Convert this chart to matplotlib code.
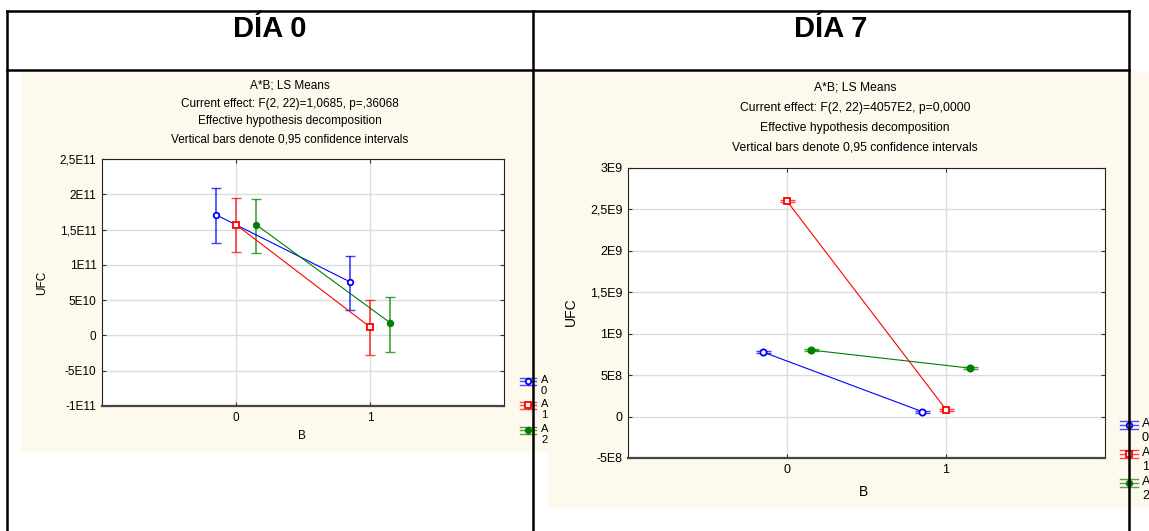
import matplotlib.pyplot as plt
from matplotlib.lines import Line2D
from matplotlib.patches import Rectangle

plt.rcParams['font.family'] = ['Liberation Sans', 'DejaVu Sans']

W, H = 1149, 531

# factor A levels, drawn side by side around each level of B
a_labels = ['A\n0', 'A\n1', 'A\n2']
a_offsets = [-0.15, 0.0, 0.15]
b_levels = [0, 1]
colors = ['#0000ff', '#ff0000', '#008000']
markers = ['o', 's', 'o']

# day 0: LS means of UFC with 0,95 confidence limits
d0_mean = [[1.71e11, 7.6e10], [1.57e11, 1.2e10], [1.57e11, 1.8e10]]
d0_low = [[1.31e11, 3.55e10], [1.18e11, -2.75e10], [1.175e11, -2.3e10]]
d0_high = [[2.09e11, 1.12e11], [1.95e11, 5.0e10], [1.94e11, 5.4e10]]
d0_yticks = [-1e11, -5e10, 0, 5e10, 1e11, 1.5e11, 2e11, 2.5e11]
d0_ylabels = ['-1E11', '-5E10', '0', '5E10', '1E11', '1,5E11', '2E11', '2,5E11']
d0_title = ['A*B; LS Means',
            'Current effect: F(2, 22)=1,0685, p=,36068',
            'Effective hypothesis decomposition',
            'Vertical bars denote 0,95 confidence intervals']

# day 7
d7_mean = [[7.78e8, 6.0e7], [2.60e9, 8.5e7], [8.03e8, 5.85e8]]
d7_low = [[7.66e8, 4.8e7], [2.588e9, 7.3e7], [7.91e8, 5.73e8]]
d7_high = [[7.90e8, 7.2e7], [2.612e9, 9.7e7], [8.15e8, 5.97e8]]
d7_yticks = [-5e8, 0, 5e8, 1e9, 1.5e9, 2e9, 2.5e9, 3e9]
d7_ylabels = ['-5E8', '0', '5E8', '1E9', '1,5E9', '2E9', '2,5E9', '3E9']
d7_title = ['A*B; LS Means',
            'Current effect: F(2, 22)=4057E2, p=0,0000',
            'Effective hypothesis decomposition',
            'Vertical bars denote 0,95 confidence intervals']

CREAM = '#fef9ed'


def fx(x):
    return x / W


def fy(y):
    return 1 - y / H


def rect(l, t, r, b):
    return [fx(l), fy(b), (r - l) / W, (b - t) / H]


def draw_panel(ax, mean, low, high, yticks, ylabels, capsize, ms, fs):
    for i in range(3):
        xs = [b + a_offsets[i] for b in b_levels]
        err = [[m - lo for m, lo in zip(mean[i], low[i])],
               [hi - m for m, hi in zip(mean[i], high[i])]]
        ax.plot(xs, mean[i], color=colors[i], lw=0.8, zorder=3)
        ax.errorbar(xs, mean[i], yerr=err, fmt='none', ecolor=colors[i],
                    elinewidth=1.2, capsize=capsize, capthick=1.0,
                    alpha=0.75, zorder=2)
        fill = colors[i] if i == 2 else 'white'
        ax.plot(xs, mean[i], ls='none', marker=markers[i], ms=ms,
                mfc=fill, mec=colors[i], mew=1.3, zorder=4)
    ax.set_xlim(-1, 2)
    ax.set_ylim(yticks[0], yticks[-1])
    ax.set_xticks([0, 1])
    ax.set_yticks(yticks)
    ax.set_yticklabels(ylabels)
    ax.grid(True, color='#dcdcdc', lw=1.0)
    ax.set_axisbelow(True)
    ax.tick_params(direction='in', length=3, top=True, right=True,
                   labelsize=fs, pad=4, color='#333333')
    for s in ax.spines.values():
        s.set_color('#222222')
        s.set_linewidth(0.8)
    ax.spines['bottom'].set_linewidth(1.6)
    ax.spines['bottom'].set_color('#444444')


def legend_keys(x, ys, hw, gap, fs, tx):
    for i, y in enumerate(ys):
        c = colors[i]
        for dy in (-gap, 0, gap):
            fig.add_artist(Line2D([fx(x - hw), fx(x + hw)], [fy(y + dy)] * 2,
                                  color=c, lw=1.0, alpha=0.7, zorder=5))
        fig.add_artist(Line2D([fx(x)] * 2, [fy(y - gap), fy(y + gap)],
                              color=c, lw=1.0, alpha=0.7, zorder=5))
        fill = c if i == 2 else 'white'
        fig.add_artist(Line2D([fx(x)], [fy(y)], marker=markers[i], ms=4,
                              mfc=fill, mec=c, mew=1.3, zorder=6))
        fig.text(fx(tx), fy(y - fs * 0.75), a_labels[i], fontsize=fs,
                 ha='left', va='top', linespacing=1.15)


fig = plt.figure(figsize=(W / 100, H / 100), dpi=100)

# panel backgrounds
fig.add_artist(Rectangle((fx(21), fy(453)), (548 - 21) / W, (453 - 72) / H,
                         facecolor=CREAM, edgecolor='none', zorder=-5))
fig.add_artist(Rectangle((fx(548), fy(509)), (W - 548) / W, (509 - 72) / H,
                         facecolor=CREAM, edgecolor='none', zorder=-5))

ax0 = fig.add_axes(rect(102, 159, 504, 406))
draw_panel(ax0, d0_mean, d0_low, d0_high, d0_yticks, d0_ylabels, 3.6, 4, 8.5)
ax7 = fig.add_axes(rect(628, 168, 1105, 458))
draw_panel(ax7, d7_mean, d7_low, d7_high, d7_yticks, d7_ylabels, 5.4, 4.5, 9)

for k, line in enumerate(d0_title):
    fig.text(fx(290), fy(86 + 17.7 * k), line, fontsize=8.5, ha='center', va='center')
for k, line in enumerate(d7_title):
    fig.text(fx(855), fy(88 + 20 * k), line, fontsize=8.7, ha='center', va='center')

fig.text(fx(42), fy(283), 'UFC', fontsize=8.5, rotation=90, ha='center', va='center')
fig.text(fx(302), fy(436), 'B', fontsize=8.5, ha='center', va='center')
fig.text(fx(571), fy(312), 'UFC', fontsize=10, rotation=90, ha='center', va='center')
fig.text(fx(864), fy(492), 'B', fontsize=10, ha='center', va='center')

legend_keys(528, [381, 405, 430], 8, 3.5, 8, 541)
legend_keys(1129, [425, 454, 483], 9, 4, 9, 1142)

# table frame with the day headers
frame = dict(color='black', lw=1.8, zorder=10)
fig.add_artist(Line2D([fx(7), fx(1129)], [fy(11)] * 2, **frame))
fig.add_artist(Line2D([fx(7), fx(1129)], [fy(70)] * 2, **frame))
for xv in (7, 533, 1129):
    fig.add_artist(Line2D([fx(xv)] * 2, [fy(11), fy(H)], **frame))
fig.text(fx(270), fy(29), 'DÍA 0', fontsize=21, fontweight='bold', ha='center', va='center')
fig.text(fx(831), fy(29), 'DÍA 7', fontsize=21, fontweight='bold', ha='center', va='center')

fig.savefig('out.png', dpi=100)
